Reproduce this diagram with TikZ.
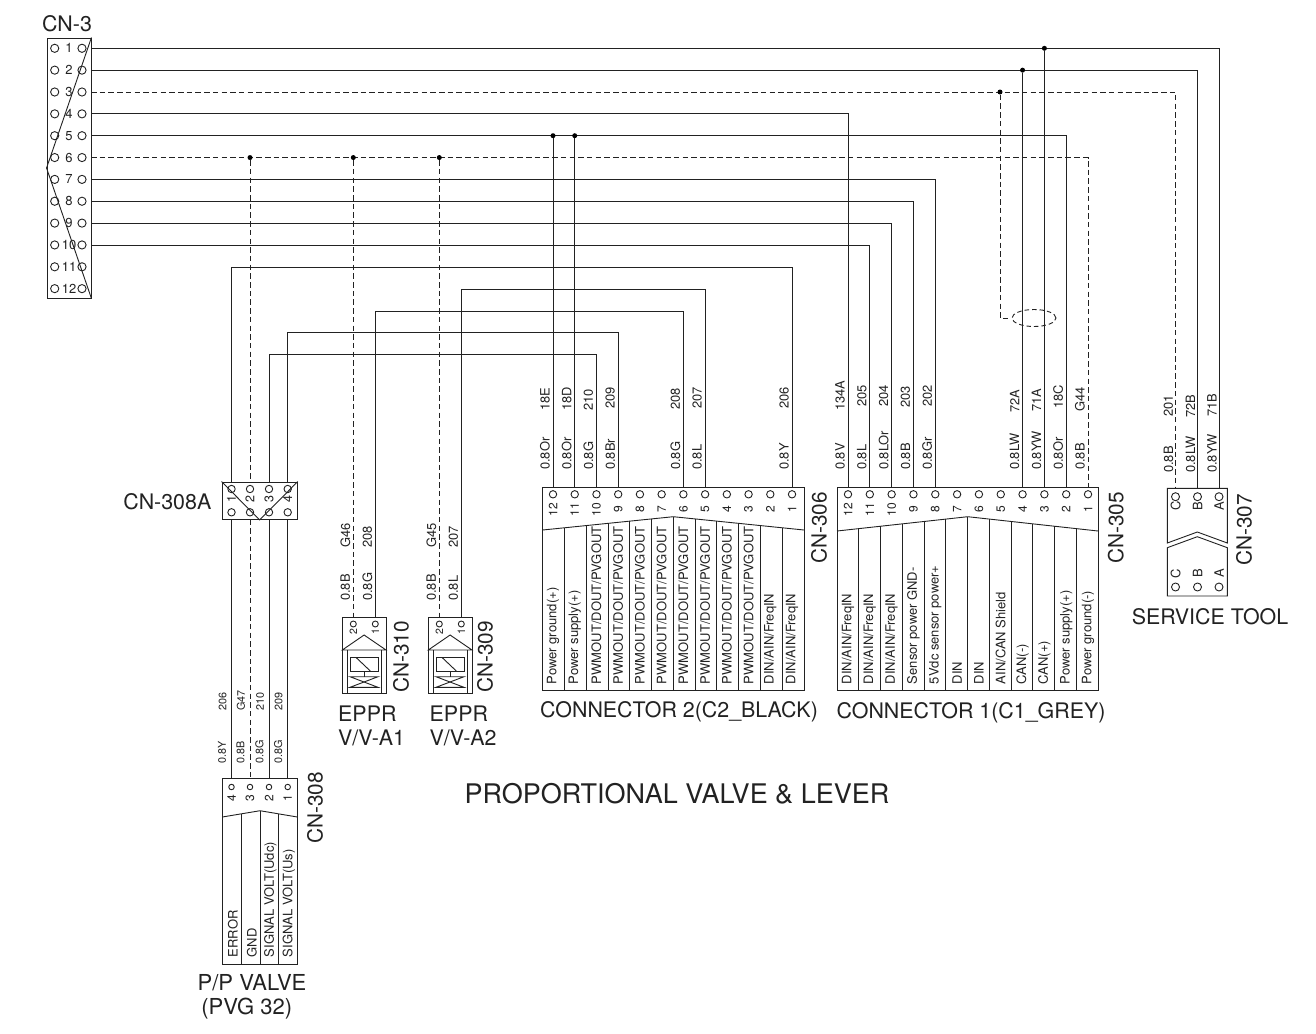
\documentclass[tikz,border=0pt]{standalone}
\usepackage{fontspec}
\setmainfont{TeX Gyre Heros}
\usetikzlibrary{fit,shapes.geometric}
\definecolor{ink}{HTML}{222222}
\newcommand{\fs}[1]{\fontsize{#1}{#1}\selectfont}
\tikzset{
  line/.style={draw=ink,line width=0.9pt},
  wire/.style={line,line cap=butt},
  dwire/.style={line,dash pattern=on 5.5pt off 3.2pt},
  boxst/.style={line,fill=white,inner sep=0pt,fit={#1}},
  junction/.style={circle,fill=black,inner sep=0pt,minimum size=5pt},
  pinhole/.style={circle,line,inner sep=0pt,minimum size=#1},
  pinhole/.default=7.4pt,
  biglab/.style={text=ink,inner sep=0pt,font=\fs{21.4}},
  bigrot/.style={biglab,rotate=90,font=\fs{20.8}},
  wlab/.style={text=ink,inner sep=0pt,rotate=90,anchor=west,font=\fs{12.9}},
  slab/.style={wlab,font=\fs{10.8}},
  pinnum/.style={text=ink,inner sep=0pt,rotate=90,xshift=1pt,font=\fs{12}},
  collab/.style={text=ink,inner sep=0pt,rotate=90,anchor=west,xshift=1.2pt,font=\fs{13}},
}
\begin{document}
\begin{tikzpicture}[x=1pt,y=-1pt]
\useasboundingbox (0,0) rectangle (1316,1033);
\fill[white] (0,0) rectangle (1316,1033);

% ---------- CN-3 ----------
\node[biglab] (cn3lab) at (67,23.5) {CN-3};
\node[boxst={(47,38)(91,298)}] (cn3) {};
\draw[line] (cn3.north east) -- (cn3.west) -- (cn3.south east);
\foreach \n in {1,...,12}{
  \node[pinhole=8.2pt] (cn3l\n) at (54.7,{48.3+21.85*(\n-1)}) {};
  \node[pinhole=8.2pt] (cn3r\n) at (82,{48.3+21.85*(\n-1)}) {};
  \node[text=ink,inner sep=0pt,font=\fs{13}] (cn3n\n) at (69,{48.3+21.85*(\n-1)}) {\n};
  \coordinate (cn3w\n) at (91,{48.3+21.85*(\n-1)});
}

% ---------- CN-306 ----------
\node[boxst={(542.7,487)(804,690)}] (cn306) {};
\coordinate (c6top) at (673.3,516.7);
\draw[line] (542.7,530) -- (c6top) -- (804,530);
\foreach \n in {1,...,12}{
  \pgfmathsetmacro\px{553+21.73*(12-\n)}
  \coordinate (cn306p\n) at (\px,487);
  \node[pinhole] (cn306h\n) at (\px,494.3) {};
  \node[pinnum] (cn306n\n) at (\px,510.5) {\n};
}
\foreach \k in {1,...,11}{
  \pgfmathsetmacro\dx{542.7+21.775*\k}
  \pgfmathsetmacro\dy{530-13.3*(\k<=6?\k/6:(12-\k)/6)}
  \draw[line] (\dx,\dy) -- (\dx,690);
}
\foreach \n/\t in {12/Power ground(+),11/Power supply(+),10/PWMOUT\slash DOUT\slash PVGOUT,9/PWMOUT\slash DOUT\slash PVGOUT,8/PWMOUT\slash DOUT\slash PVGOUT,7/PWMOUT\slash DOUT\slash PVGOUT,6/PWMOUT\slash DOUT\slash PVGOUT,5/PWMOUT\slash DOUT\slash PVGOUT,4/PWMOUT\slash DOUT\slash PVGOUT,3/PWMOUT\slash DOUT\slash PVGOUT,2/DIN\slash AIN\slash FreqIN,1/DIN\slash AIN\slash FreqIN}{
  \pgfmathsetmacro\px{553+21.73*(12-\n)}
  \node[collab] (cn306t\n) at (\px,685.5) {\t};
}
\node[bigrot] (cn306lab) at (819,527.7) {CN-306};
\node[biglab] (cn306name) at (679,712) {CONNECTOR 2(C2\_BLACK)};

% ---------- CN-305 ----------
\node[boxst={(837,487)(1098,690)}] (cn305) {};
\coordinate (c5top) at (967.7,516.7);
\draw[line] (837,531) -- (c5top) -- (1098,531);
\foreach \n in {1,...,12}{
  \pgfmathsetmacro\px{848+21.82*(12-\n)}
  \coordinate (cn305p\n) at (\px,487);
  \node[pinhole] (cn305h\n) at (\px,494.3) {};
  \node[pinnum] (cn305n\n) at (\px,510.5) {\n};
}
\foreach \k in {1,...,11}{
  \pgfmathsetmacro\dx{837+21.75*\k}
  \pgfmathsetmacro\dy{531-14.3*(\k<=6?\k/6:(12-\k)/6)}
  \draw[line] (\dx,\dy) -- (\dx,690);
}
\foreach \n/\t in {12/DIN\slash AIN\slash FreqIN,11/DIN\slash AIN\slash FreqIN,10/DIN\slash AIN\slash FreqIN,9/Sensor power GND-,8/5Vdc sensor power+,7/DIN,6/DIN,5/AIN\slash CAN Shield,4/CAN(-),3/CAN(+),2/Power supply(+),1/Power ground(-)}{
  \pgfmathsetmacro\px{848+21.82*(12-\n)}
  \node[collab] (cn305t\n) at (\px,685.5) {\t};
}
\node[bigrot] (cn305lab) at (1115.7,528) {CN-305};
\node[biglab] (cn305name) at (971,713) {CONNECTOR 1(C1\_GREY)};

% ---------- CN-307 ----------
\coordinate (s1) at (1167.3,488.3);
\coordinate (s2) at (1227.3,488.3);
\node[inner sep=0pt,fit={(s1)(1227.3,596)}] (cn307) {};
\draw[line] (1167.3,543) -- (s1) -- (s2) -- (1227.3,543) -- (1197.3,532) -- cycle;
\draw[line] (1167.3,547.7) -- (1197.3,536.7) -- (1227.3,547.7) -- (1227.3,596) -- (1167.3,596) -- cycle;
\foreach \l/\px in {C/1175.5,B/1197.5,A/1219}{
  \coordinate (cn307p\l) at (\px,488.3);
  \node[pinhole=8pt] (cn307h\l) at (\px,496.7) {};
  \node[pinnum,font=\fs{13}] (cn307n\l) at (\px,507) {\l};
  \node[pinhole=8pt] (cn307j\l) at (\px,587) {};
  \node[pinnum,font=\fs{13}] (cn307m\l) at (\px,574.5) {\l};
}
\node[bigrot] (cn307lab) at (1244,530) {CN-307};
\node[biglab] (svc) at (1210,617) {SERVICE TOOL};

% ---------- CN-308A ----------
\node[boxst={(222,482)(297.3,519.5)}] (cn308a) {};
\draw[line] (cn308a.north west) -- (cn308a.south) -- (cn308a.north east);
\foreach \n/\px in {1/231.5,2/250,3/269,4/287.7}{
  \coordinate (a\n t) at (\px,482);
  \coordinate (a\n b) at (\px,519.5);
  \node[pinhole] (a\n u) at (\px,489) {};
  \node[pinhole] (a\n d) at (\px,512.3) {};
  \node[pinnum,font=\fs{12.5}] (a\n n) at (\px,500.5) {\n};
}
\node[biglab,anchor=east] (cn308alab) at (211.5,501.5) {CN-308A};

% ---------- CN-308 ----------
\node[boxst={(222.3,778)(297.3,964)}] (cn308) {};
\draw[line] (222.3,817) -- (260,810.7) -- (297.3,817);
\draw[line] (241.3,814) -- (241.3,964);
\draw[line] (260,810.7) -- (260,964);
\draw[line] (278.7,814) -- (278.7,964);
\foreach \n/\px in {4/231.5,3/250,2/269,1/287.7}{
  \coordinate (b\n t) at (\px,778);
  \node[pinhole=5.5pt] (b\n u) at (\px,787) {};
  \node[pinnum] (b\n n) at (\px,799.5) {\n};
}
\foreach \px/\t in {233/ERROR,252/GND,270.5/SIGNAL VOLT(Udc),289/SIGNAL VOLT(Us)}{
  \node[collab] at (\px,958.5) {\t};
}
\node[bigrot] (cn308lab) at (315,808) {CN-308};
\node[biglab,font=\fs{22}] (pp1) at (252,983) {P/P VALVE};
\node[biglab,font=\fs{22}] (pp2) at (246.7,1008.5) {(PVG 32)};

% ---------- EPPR CN-310 and CN-309 ----------
\foreach \id/\xa in {cnA/342.3,cnB/428.3}{
  \begin{scope}[shift={(\xa,0)}]
    \draw[line] (0,617.3) rectangle (43.7,693.3);
    \draw[line] (0,650) -- (21.8,635) -- (43.7,650) -- cycle;
    \draw[line] (5,650) -- (5,693.3);
    \draw[line] (39,650) -- (39,693.3);
    \draw[line] (7.7,657.7) rectangle (35.7,671);
    \draw[line] (14,657.7) -- (28,671);
    \draw[line] (21.8,671) -- (21.8,676.7);
    \draw[line] (7.7,676.7) -- (35.7,676.7) -- (7.7,687.3) -- (35.7,687.3) -- cycle;
    \node[pinhole=6pt] (\id h2) at (11,624) {};
    \node[pinhole=6pt] (\id h1) at (33,624) {};
    \node[pinnum,font=\fs{10.5}] (\id n2) at (11,632.8) {2};
    \node[pinnum,font=\fs{10.5}] (\id n1) at (33,632.8) {1};
  \end{scope}
}
\coordinate (cnAp2) at (353.3,617.3);
\coordinate (cnAp1) at (375.3,617.3);
\coordinate (cnBp2) at (439.3,617.3);
\coordinate (cnBp1) at (461.3,617.3);
\node[bigrot] (cn310lab) at (401,656.7) {CN-310};
\node[bigrot] (cn309lab) at (485,656.7) {CN-309};
\node[biglab,anchor=west] (e1a) at (338,714) {EPPR};
\node[biglab,anchor=west] (e1b) at (338,737.7) {V/V-A1};
\node[biglab,anchor=west] (e2a) at (429.5,714) {EPPR};
\node[biglab,anchor=west] (e2b) at (429.5,737.7) {V/V-A2};

\node[text=ink,inner sep=0pt,font=\fs{27}] (title) at (677,794) {PROPORTIONAL VALVE \& LEVER};

% ---------- Wires from CN-3 ----------
\draw[wire] (cn3w1) -| (cn307pA);
\draw[wire] (cn3w2) -| (cn307pB);
\draw[dwire] (cn3w3) -| (cn307pC);
\draw[wire] (cn3w4) -| (cn305p12);
\draw[wire] (cn3w5) -| (cn305p2);
\draw[dwire] (cn3w6) -| (cn305p1);
\draw[wire] (cn3w7) -| (cn305p8);
\draw[wire] (cn3w8) -| (cn305p9);
\draw[wire] (cn3w9) -| (cn305p10);
\draw[wire] (cn3w10) -| (cn305p11);

% junctions
\node[junction] (j1) at (cn3w1 -| cn305p3) {};
\node[junction] (j2) at (cn3w2 -| cn305p4) {};
\coordinate (shieldL) at (1000,317.5);
\node[junction] (j3) at (cn3w3 -| shieldL) {};
\node[junction] (j5a) at (cn3w5 -| cn306p12) {};
\node[junction] (j5b) at (cn3w5 -| cn306p11) {};
\node[junction] (j6a) at (cn3w6 -| a2t) {};
\node[junction] (j6b) at (cn3w6 -| cnAp2) {};
\node[junction] (j6c) at (cn3w6 -| cnBp2) {};

\draw[wire] (j1) -- (cn305p3);
\draw[wire] (j2) -- (cn305p4);
\draw[wire] (j5a) -- (cn306p12);
\draw[wire] (j5b) -- (cn306p11);
\draw[dwire] (j6a) -- (a2t);
\draw[dwire] (a2b) -- (b3t);
\draw[dwire] (j6b) -- (cnAp2);
\draw[dwire] (j6c) -- (cnBp2);

% shield
\node[draw=ink,line width=0.9pt,dash pattern=on 4.5pt off 3pt,ellipse,inner sep=0pt,minimum width=44pt,minimum height=17pt,fill=none] (shield) at (1034,318) {};
\draw[dwire] (j3) |- (shield.west);

% other harness wires
\draw[wire] (a1t) |- (cn306p1 |- 0,267) -- (cn306p1);
\draw[wire] (a1b) -- (b4t);
\draw[wire] (cnBp1) |- (cn306p5 |- 0,289) -- (cn306p5);
\draw[wire] (cnAp1) |- (cn306p6 |- 0,311) -- (cn306p6);
\draw[wire] (a4t) |- (cn306p9 |- 0,332.5) -- (cn306p9);
\draw[wire] (a4b) -- (b1t);
\draw[wire] (a3t) |- (cn306p10 |- 0,354) -- (cn306p10);
\draw[wire] (a3b) -- (b2t);

% ---------- Wire labels ----------
\foreach \n/\a/\b/\ya in {12/0.8Or/18E/411,11/0.8Or/18D/411,10/0.8G/210/411,9/0.8Br/209/409,6/0.8G/208/410,5/0.8L/207/409,1/0.8Y/206/409}{
  \node[wlab] at ([xshift=-8pt]cn306p\n |- 0,470) {\a};
  \node[wlab] at ([xshift=-8pt]cn306p\n |- 0,\ya) {\b};
}
\foreach \n/\a/\b/\ya in {12/0.8V/134A/411,11/0.8L/205/407,10/0.8LOr/204/407,9/0.8B/203/408,8/0.8Gr/202/407,4/0.8LW/72A/413,3/0.8YW/71A/412,2/0.8Or/18C/409,1/0.8B/G44/412}{
  \node[wlab] at ([xshift=-8pt]cn305p\n |- 0,470) {\a};
  \node[wlab] at ([xshift=-8pt]cn305p\n |- 0,\ya) {\b};
}
\foreach \l/\a/\b/\ya in {C/0.8B/201/417,B/0.8LW/72B/418,A/0.8YW/71B/417}{
  \node[wlab] at ([xshift=-7pt]cn307p\l |- 0,473) {\a};
  \node[wlab] at ([xshift=-7pt]cn307p\l |- 0,\ya) {\b};
}
\foreach \p/\a/\b in {cnAp2/0.8B/G46,cnAp1/0.8G/208,cnBp2/0.8B/G45,cnBp1/0.8L/207}{
  \node[wlab] at ([xshift=-8pt]\p |- 0,601) {\a};
  \node[wlab] at ([xshift=-8pt]\p |- 0,548) {\b};
}
\foreach \p/\a/\b in {b4t/0.8Y/206,b3t/0.8B/G47,b2t/0.8G/210,b1t/0.8G/209}{
  \node[slab] at ([xshift=-9.5pt]\p |- 0,764) {\a};
  \node[slab] at ([xshift=-9pt]\p |- 0,711) {\b};
}
\end{tikzpicture}
\end{document}
